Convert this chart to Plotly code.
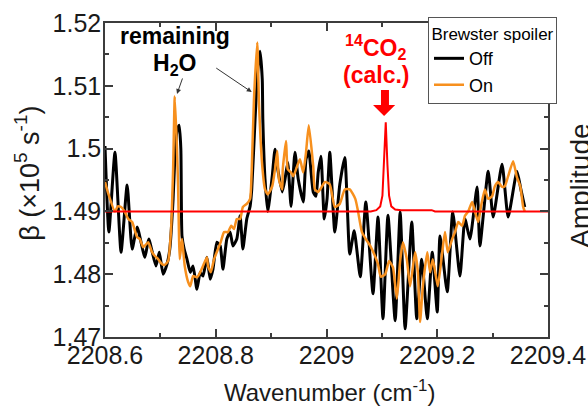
import plotly.graph_objects as go

# ---- data ----
off_x = [2208.600, 2208.607, 2208.618, 2208.629, 2208.640, 2208.649, 2208.658, 2208.672, 2208.679, 2208.692,
         2208.698, 2208.705, 2208.712, 2208.717, 2208.723, 2208.726, 2208.730, 2208.734, 2208.737, 2208.739,
         2208.743, 2208.748, 2208.754, 2208.759, 2208.766, 2208.772, 2208.777, 2208.784, 2208.790, 2208.795,
         2208.802, 2208.808, 2208.813, 2208.820, 2208.826, 2208.831, 2208.838, 2208.844, 2208.849, 2208.856,
         2208.862, 2208.865, 2208.871, 2208.876, 2208.880, 2208.884, 2208.885, 2208.889, 2208.894, 2208.902,
         2208.907, 2208.912, 2208.920, 2208.925, 2208.930, 2208.936, 2208.943, 2208.949, 2208.958, 2208.963,
         2208.968, 2208.976, 2208.981, 2208.985, 2208.990, 2208.996, 2209.001, 2209.006, 2209.015, 2209.024,
         2209.033, 2209.042, 2209.050, 2209.061, 2209.071, 2209.084, 2209.093, 2209.102, 2209.111, 2209.124,
         2209.133, 2209.142, 2209.154, 2209.163, 2209.172, 2209.182, 2209.191, 2209.200, 2209.205, 2209.218,
         2209.228, 2209.241, 2209.250, 2209.259, 2209.272, 2209.277, 2209.292, 2209.301, 2209.317, 2209.328,
         2209.344, 2209.351, 2209.358]
off_y = [1.5004, 1.4867, 1.4994, 1.4835, 1.4942, 1.4840, 1.4875, 1.4827, 1.4856, 1.4813,
         1.4835, 1.4800, 1.4816, 1.4840, 1.4920, 1.4983, 1.5028, 1.5037, 1.4999, 1.4861,
         1.4840, 1.4824, 1.4803, 1.4813, 1.4776, 1.4803, 1.4797, 1.4827, 1.4792, 1.4808,
         1.4851, 1.4845, 1.4808, 1.4856, 1.4867, 1.4845, 1.4856, 1.4893, 1.4840, 1.4888,
         1.4908, 1.4935, 1.5047, 1.5126, 1.5155, 1.5110, 1.5047, 1.4951, 1.4900, 1.4956,
         1.4999, 1.4967, 1.4931, 1.4951, 1.4978, 1.4908, 1.4994, 1.4951, 1.4915, 1.4983,
         1.4996, 1.4931, 1.4924, 1.4962, 1.4988, 1.4888, 1.4920, 1.4994, 1.4867, 1.4943,
         1.4986, 1.4832, 1.4869, 1.4796, 1.4915, 1.4769, 1.4891, 1.4729, 1.4894, 1.4726,
         1.4899, 1.4713, 1.4883, 1.4729, 1.4824, 1.4729, 1.4835, 1.4740, 1.4861, 1.4772,
         1.4899, 1.4797, 1.4888, 1.4856, 1.4939, 1.4845, 1.4964, 1.4891, 1.4975, 1.4891,
         1.4964, 1.4935, 1.4907]

on_x = [2208.600, 2208.605, 2208.618, 2208.623, 2208.629, 2208.636, 2208.642, 2208.649, 2208.658, 2208.663,
        2208.669, 2208.678, 2208.685, 2208.690, 2208.696, 2208.703, 2208.708, 2208.714, 2208.719, 2208.723,
        2208.726, 2208.730, 2208.732, 2208.735, 2208.739, 2208.741, 2208.744, 2208.750, 2208.754, 2208.759,
        2208.766, 2208.772, 2208.777, 2208.784, 2208.786, 2208.791, 2208.797, 2208.804, 2208.809, 2208.815,
        2208.822, 2208.828, 2208.833, 2208.838, 2208.844, 2208.849, 2208.856, 2208.862, 2208.865, 2208.869,
        2208.875, 2208.878, 2208.884, 2208.889, 2208.894, 2208.902, 2208.907, 2208.911, 2208.914, 2208.920,
        2208.921, 2208.927, 2208.930, 2208.936, 2208.940, 2208.947, 2208.952, 2208.958, 2208.963, 2208.968,
        2208.976, 2208.979, 2208.985, 2208.992, 2208.997, 2209.006, 2209.015, 2209.024, 2209.033, 2209.042,
        2209.052, 2209.057, 2209.064, 2209.071, 2209.079, 2209.086, 2209.093, 2209.098, 2209.106, 2209.113,
        2209.120, 2209.127, 2209.133, 2209.138, 2209.145, 2209.151, 2209.160, 2209.165, 2209.169, 2209.174,
        2209.182, 2209.187, 2209.192, 2209.201, 2209.209, 2209.214, 2209.219, 2209.227, 2209.232, 2209.238,
        2209.245, 2209.250, 2209.256, 2209.263, 2209.268, 2209.274, 2209.279, 2209.286, 2209.292, 2209.299,
        2209.304, 2209.310, 2209.317, 2209.322, 2209.328, 2209.337, 2209.344, 2209.350, 2209.355, 2209.358]
on_y = [1.4947, 1.4931, 1.4900, 1.4908, 1.4907, 1.4899, 1.4888, 1.4883, 1.4859, 1.4856,
        1.4843, 1.4851, 1.4835, 1.4829, 1.4824, 1.4816, 1.4815, 1.4821, 1.4867, 1.4967,
        1.5083, 1.4999, 1.4940, 1.4824, 1.4856, 1.4840, 1.4813, 1.4788, 1.4781, 1.4797,
        1.4795, 1.4803, 1.4813, 1.4827, 1.4813, 1.4803, 1.4824, 1.4840, 1.4851, 1.4867,
        1.4867, 1.4877, 1.4872, 1.4888, 1.4888, 1.4907, 1.4912, 1.4920, 1.4967, 1.5078,
        1.5169, 1.5074, 1.4972, 1.4935, 1.4927, 1.4940, 1.4967, 1.4996, 1.4951, 1.4935,
        1.4967, 1.5012, 1.4967, 1.4962, 1.4956, 1.4972, 1.4983, 1.4962, 1.4994, 1.5037,
        1.4972, 1.4935, 1.4931, 1.4940, 1.4947, 1.4943, 1.4907, 1.4912, 1.4935, 1.4935,
        1.4920, 1.4900, 1.4867, 1.4856, 1.4845, 1.4832, 1.4816, 1.4796, 1.4800, 1.4821,
        1.4811, 1.4761, 1.4821, 1.4851, 1.4824, 1.4781, 1.4835, 1.4803, 1.4724, 1.4781,
        1.4835, 1.4803, 1.4824, 1.4781, 1.4835, 1.4867, 1.4835, 1.4856, 1.4867, 1.4883,
        1.4877, 1.4893, 1.4900, 1.4915, 1.4900, 1.4883, 1.4908, 1.4935, 1.4920, 1.4924,
        1.4940, 1.4947, 1.4939, 1.4940, 1.4956, 1.4980, 1.4954, 1.4940, 1.4908, 1.4900]

calc_x = [2208.600, 2209.080, 2209.090, 2209.097, 2209.101, 2209.104, 2209.107, 2209.110,
          2209.113, 2209.117, 2209.124, 2209.135, 2209.190, 2209.196, 2209.400]
calc_y = [1.4900, 1.4900, 1.4902, 1.4908, 1.4925, 1.4975, 1.5042, 1.4975,
          1.4925, 1.4908, 1.4903, 1.4902, 1.4902, 1.4900, 1.4900]

x_tickvals = [2208.6, 2208.8, 2209.0, 2209.2, 2209.4]
x_ticktext = ["2208.6", "2208.8", "2209", "2209.2", "2209.4"]
y_tickvals = [1.47, 1.48, 1.49, 1.50, 1.51, 1.52]
y_ticktext = ["1.47", "1.48", "1.49", "1.5", "1.51", "1.52"]

FONT = "Liberation Sans, Arial, sans-serif"
AX = "#3c3c3c"
ORANGE = "#F7901E"

fig = go.Figure()
fig.add_trace(go.Scatter(x=off_x, y=off_y, mode="lines", name="Off",
                         line=dict(color="black", width=3, shape="spline", smoothing=0.5)))
fig.add_trace(go.Scatter(x=on_x, y=on_y, mode="lines", name="On",
                         line=dict(color=ORANGE, width=2.5, shape="spline", smoothing=0.5)))
fig.add_trace(go.Scatter(x=calc_x, y=calc_y, mode="lines", showlegend=False,
                         line=dict(color="#FF0000", width=2)))

axis_common = dict(showline=True, linecolor=AX, linewidth=1.5, mirror="ticks",
                   ticks="inside", ticklen=8, tickwidth=1.5, tickcolor=AX,
                   showgrid=False, zeroline=False,
                   tickfont=dict(family=FONT, size=25, color="#1a1a1a"))

fig.update_xaxes(range=[2208.6, 2209.4], tickvals=x_tickvals, ticktext=x_ticktext,
                 ticklabelstandoff=-5,
                 minor=dict(ticks="inside", ticklen=4, dtick=0.1, tick0=2208.6,
                            tickcolor=AX, tickwidth=1.5),
                 **axis_common)
fig.update_yaxes(range=[1.47, 1.52], tickvals=y_tickvals, ticktext=y_ticktext,
                 ticklabelstandoff=-3,
                 minor=dict(ticks="inside", ticklen=4, dtick=0.005, tick0=1.47,
                            tickcolor=AX, tickwidth=1.5),
                 **axis_common)

ann = []
ann.append(dict(x=2208.726, y=1.5179, xref="x", yref="y", text="<b>remaining</b>",
                showarrow=False, font=dict(family=FONT, size=23, color="black")))
ann.append(dict(x=2208.726, y=1.5134, xref="x", yref="y", text="<b>H<sub>2</sub>O</b>",
                showarrow=False, font=dict(family=FONT, size=23, color="black")))
ann.append(dict(x=2208.730, y=1.5087, xref="x", yref="y", text="", showarrow=True,
                ax=6, ay=-17, arrowhead=2, arrowsize=1, arrowwidth=1, arrowcolor="#333"))
ann.append(dict(x=2208.865, y=1.5090, xref="x", yref="y", text="", showarrow=True,
                ax=-37, ay=-25, arrowhead=2, arrowsize=1, arrowwidth=1, arrowcolor="#333"))
ann.append(dict(x=2209.088, y=1.5161, xref="x", yref="y",
                text="<b><sup>14</sup>CO<sub>2</sub></b>",
                showarrow=False, font=dict(family=FONT, size=23, color="#FF0000")))
ann.append(dict(x=2209.090, y=1.5118, xref="x", yref="y", text="<b>(calc.)</b>",
                showarrow=False, font=dict(family=FONT, size=23, color="#FF0000")))
ann.append(dict(x=1.0745, y=0.481, xref="paper", yref="paper", text="Amplitude",
                textangle=-90, showarrow=False, xanchor="center", yanchor="middle",
                font=dict(family=FONT, size=28, color="#1a1a1a")))
ann.append(dict(x=-0.176, y=0.52, xref="paper", yref="paper",
                text="β (×10<sup>5</sup> s<sup>-1</sup>)",
                textangle=-90, showarrow=False, xanchor="center", yanchor="middle",
                font=dict(family=FONT, size=27, color="#1a1a1a")))
ann.append(dict(x=0.506, y=-0.172, xref="paper", yref="paper",
                text="Wavenumber (cm<sup>-1</sup>)",
                showarrow=False, xanchor="center", yanchor="middle",
                font=dict(family=FONT, size=24, color="#1a1a1a")))

fig.update_layout(
    width=588, height=413,
    margin=dict(l=105, r=40, t=23, b=76, autoexpand=False),
    paper_bgcolor="white", plot_bgcolor="white",
    annotations=ann,
    shapes=[dict(type="path", xref="paper", yref="paper",
                 path="M 0.623,0.787 L 0.641,0.787 L 0.641,0.739 L 0.655,0.739 "
                      "L 0.630,0.704 L 0.605,0.739 L 0.623,0.739 Z",
                 fillcolor="#FF0000", line=dict(width=0), layer="above")],
    legend=dict(x=1.0203, xanchor="right", y=1.019, yanchor="top",
                bgcolor="white", bordercolor="#555", borderwidth=1,
                font=dict(family=FONT, size=18, color="black"),
                title=dict(text="Brewster spoiler", side="top center",
                           font=dict(family=FONT, size=17, color="black")),
                tracegroupgap=0),
)

# remove the default page margin so the 588x413 figure fills the window exactly
fig.write_html("out.html",
               config={"displayModeBar": False},
               post_script="document.body.style.margin='0px';document.body.style.overflow='hidden';")
